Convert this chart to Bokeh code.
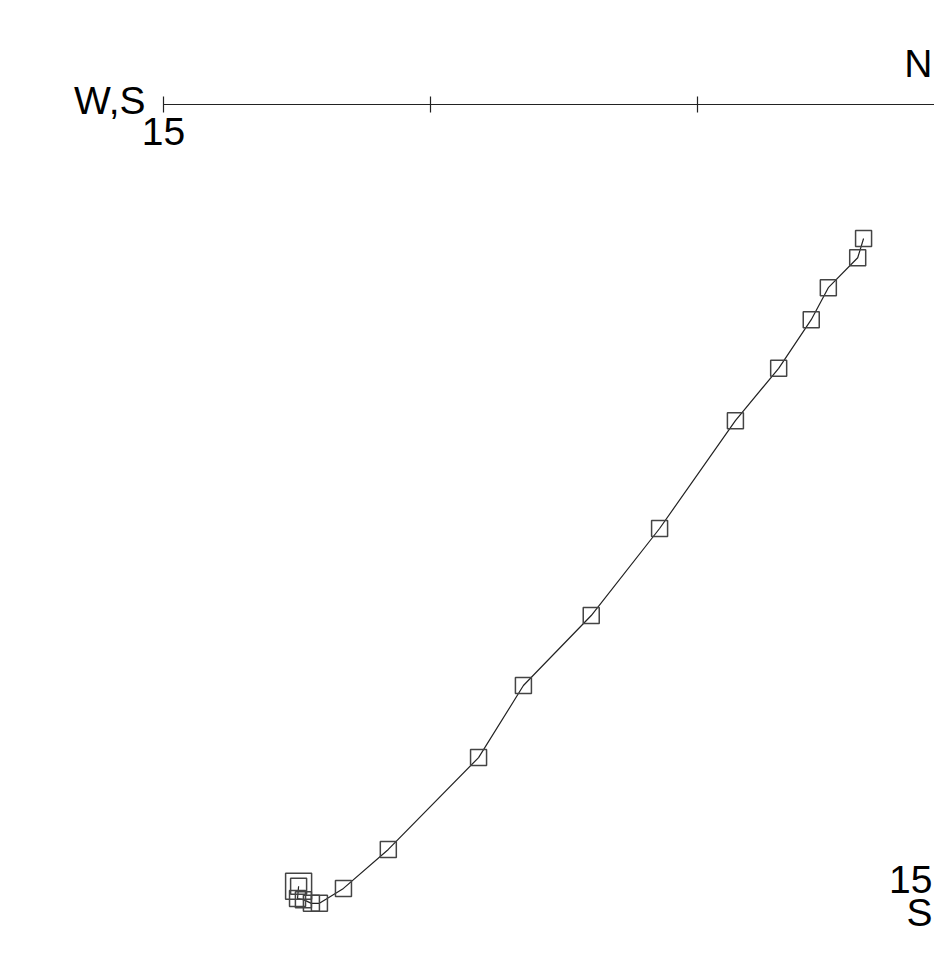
from bokeh.plotting import figure
from bokeh.models import Range1d
from bokeh.core.properties import value
from bokeh.embed import file_html
from bokeh.resources import INLINE

# Zijderveld-style plot data (units on the 15-unit scale)
east = [-12.47, -12.49, -12.38, -12.23, -12.08, -11.63, -10.79, -9.10, -8.26,
        -6.99, -5.71, -4.29, -3.48, -2.87, -2.55, -2.00, -1.89]
north = [-14.64, -14.87, -14.89, -14.96, -14.96, -14.68, -13.95, -12.23, -10.88,
         -9.57, -7.94, -5.92, -4.94, -4.03, -3.43, -2.87, -2.51]
axis_ticks = [-15, -10, -5, 0]
scale_max = 15

S = 801.0 / 15.0  # px per unit
W, H = 934, 938
OX, OY = 964, 104  # origin in picture px

def px2x(px):
    return (px - OX) / S

def px2y(py):
    return (OY - py) / S

p = figure(width=W, height=H, output_backend="svg", toolbar_location=None,
           x_range=Range1d(px2x(0), px2x(W)),
           y_range=Range1d(px2y(H), px2y(0)),
           min_border=0)
p.axis.visible = False
p.grid.visible = False
p.outline_line_color = None
p.background_fill_color = "white"

# axes
p.line([-scale_max, 0], [0, 0], line_color="#222222", line_width=1.2)
p.line([0, 0], [0.6, -scale_max], line_color="#222222", line_width=1.2)
tick_h = 8.0 / S
for t in axis_ticks:
    p.line([t, t], [-tick_h, tick_h], line_color="#222222", line_width=1.2)
    p.line([-tick_h, tick_h], [t, t], line_color="#222222", line_width=1.2)

# data path
p.line(east, north, line_color="#222222", line_width=1.2)
p.scatter(east, north, marker="square", size=16, fill_color=None,
          line_color="#444444", line_width=1.5)
p.scatter(east[:1], north[:1], marker="square", size=26, fill_color=None,
          line_color="#444444", line_width=1.5)

font = value("Liberation Sans")
fs = value("39px")
p.text([px2x(145)], [px2y(100)], text=["W,S"], text_font=font, text_font_size=fs,
       text_align="right", text_baseline="alphabetic", text_color="black")
p.text([-scale_max], [px2y(131)], text=[str(scale_max)], text_font=font, text_font_size=fs,
       text_align="center", text_baseline="alphabetic", text_color="black")
p.text([px2x(932)], [px2y(63)], text=["N"], text_font=font, text_font_size=fs,
       text_align="right", text_baseline="alphabetic", text_color="black")
p.text([px2x(932)], [px2y(879)], text=[str(scale_max)], text_font=font, text_font_size=fs,
       text_align="right", text_baseline="alphabetic", text_color="black")
p.text([px2x(932)], [px2y(912)], text=["S"], text_font=font, text_font_size=fs,
       text_align="right", text_baseline="alphabetic", text_color="black")

open("out.html", "w").write(file_html(p, INLINE))
